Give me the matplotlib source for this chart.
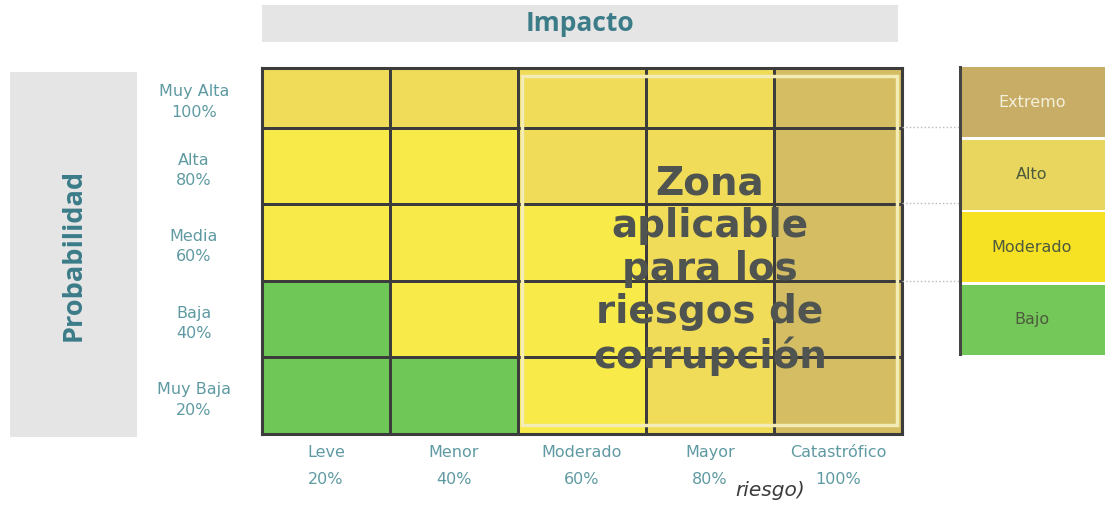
import matplotlib.pyplot as plt
import numpy as np
from matplotlib.colors import ListedColormap
from matplotlib.patches import Rectangle

# data
impacto = ["Leve", "Menor", "Moderado", "Mayor", "Catastrófico"]
impacto_pct = ["20%", "40%", "60%", "80%", "100%"]
probabilidad = ["Muy Baja", "Baja", "Media", "Alta", "Muy Alta"]
probabilidad_pct = ["20%", "40%", "60%", "80%", "100%"]
niveles = ["Bajo", "Moderado", "Alto", "Extremo"]
colores = ["#6fc757", "#f8ea48", "#f0dc58", "#d4bd62"]
colores_leyenda = ["#74c85a", "#f6e222", "#e8d65e", "#c8ad66"]
# risk level per cell (rows from Muy Baja to Muy Alta), index into niveles
zona = [
    [0, 0, 1, 2, 3],
    [0, 1, 1, 2, 3],
    [1, 1, 1, 2, 3],
    [1, 1, 2, 2, 3],
    [2, 2, 2, 2, 3],
]
alto_fila = [1, 1, 1, 1, 0.78]  # top row is drawn shorter

TXT = "#5f9aa2"
HEAD = "#3b7c88"
GRID = "#3c3c3c"

plt.rcParams['font.family'] = ['DejaVu Sans']

fig = plt.figure(figsize=(11.05, 5.18), dpi=100)
W, H = 1105, 518

def px_axes(x0, y0, x1, y1):
    return fig.add_axes([x0 / W, 1 - y1 / H, (x1 - x0) / W, (y1 - y0) / H])

# header "Impacto"
hx = px_axes(262, 5, 898, 42)
hx.set_facecolor("#e5e5e5")
hx.set_xticks([]); hx.set_yticks([])
for s in hx.spines.values():
    s.set_visible(False)
hx.text(0.5, 0.5, "Impacto", ha="center", va="center", fontsize=19,
        fontweight="bold", color=HEAD, family=["Open Sans", "DejaVu Sans"])

# side box "Probabilidad"
px = px_axes(10, 72, 137, 437)
px.set_facecolor("#e5e5e5")
px.set_xticks([]); px.set_yticks([])
for s in px.spines.values():
    s.set_visible(False)
px.text(0.5, 0.5, "Probabilidad", ha="center", va="center", rotation=90,
        fontsize=19.5, fontweight="bold", color=HEAD, family=["Open Sans", "DejaVu Sans"])

# matrix
ax = px_axes(262, 68, 902, 434)
xe = np.arange(len(impacto) + 1)
ye = np.concatenate([[0], np.cumsum(alto_fila)])
ax.pcolormesh(xe, ye, np.array(zona), cmap=ListedColormap(colores),
              vmin=-0.5, vmax=len(niveles) - 0.5, edgecolors=GRID, linewidth=1.9)
ax.set_xlim(0, len(impacto))
ax.set_ylim(0, ye[-1])
for s in ax.spines.values():
    s.set_color(GRID)
    s.set_linewidth(2.2)

xc = (xe[:-1] + xe[1:]) / 2
yc = (ye[:-1] + ye[1:]) / 2
ax.set_xticks(xc)
ax.set_xticklabels([f"{a}\n{b}" for a, b in zip(impacto, impacto_pct)],
                   color=TXT, fontsize=11.5)
ax.set_yticks(yc)
ax.set_yticklabels([f"{a}\n{b}" for a, b in zip(probabilidad, probabilidad_pct)],
                   color=TXT, fontsize=11.5, ha="center")
for lbl in ax.get_xticklabels():
    lbl.set_linespacing(1.95)
for lbl in ax.get_yticklabels():
    lbl.set_linespacing(1.45)
ax.tick_params(length=0)
ax.tick_params(axis="x", pad=8)
ax.tick_params(axis="y", pad=49)

# overlay: zone for corruption risks
ax.add_patch(Rectangle((2.03, 0.12), 2.93, 4.55, fill=False,
                       edgecolor="#f3ecb6", linewidth=2.5, zorder=3))
zt = ax.text(3.5, 2.14, "Zona\naplicable\npara los\nriesgos de\ncorrupción",
             ha="center", va="center", fontsize=28, fontweight="bold",
             color="#505450", zorder=4)
zt.set_linespacing(1.16)

# legend boxes on the right
lg = px_axes(959, 66, 1105, 356)
lg.set_xlim(0, 1)
lg.set_ylim(0, len(niveles))
lg.axis("off")
for i, (nom, col) in enumerate(zip(niveles, colores_leyenda)):
    lg.add_patch(Rectangle((0, i + 0.02), 1, 0.96, facecolor=col, edgecolor="none"))
    lg.text(0.5, i + 0.5, nom, ha="center", va="center", fontsize=11.5,
            color="#f4f0dc" if nom == "Extremo" else "#4d5a3e")
lg.plot([0.01, 0.01], [0, len(niveles)], color="#444444", lw=2.2)

# dotted connectors between matrix and legend
for yy in (127, 203, 281):
    fig.add_artist(plt.Line2D([902 / W, 959 / W], [1 - yy / H, 1 - yy / H],
                              color="#b8b8b8", lw=1, ls=":"))

fig.text(735 / W, 1 - 491 / H, "riesgo)", fontsize=14.5, style="italic",
         color="#3c3c3c", va="center")

fig.savefig("out.png", dpi=100)
